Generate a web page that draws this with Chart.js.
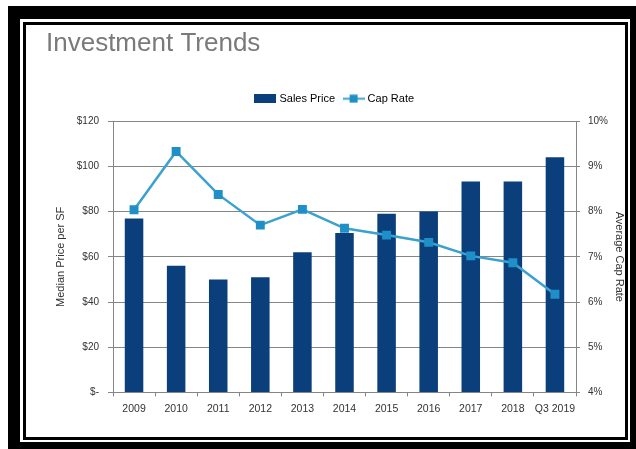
<!DOCTYPE html>
<html>
<head>
<meta charset="utf-8">
<title>Investment Trends</title>
<script src="https://cdn.jsdelivr.net/npm/chart.js@4.4.1/dist/chart.umd.min.js"></script>
<style>
  html, body { margin: 0; padding: 0; background: #fff; width: 636px; height: 449px; overflow: hidden; }
  #frame {
    position: absolute; left: 8px; top: 6px; width: 628px; height: 443px;
    box-sizing: border-box; border: solid #000; border-width: 13px 6px 7px 12px; background: #fff;
  }
  #inner {
    position: absolute; left: 3px; top: 3px; right: 2px; bottom: 2px;
    border: 3px solid #000; background: #fff;
  }
  #chart { display: block; }
</style>
</head>
<body>
<div id="frame"><div id="inner"><canvas id="chart" width="599" height="412"></canvas></div></div>
<script>
const categories = ["2009", "2010", "2011", "2012", "2013", "2014", "2015", "2016", "2017", "2018", "Q3 2019"];
const salesPrice = [77, 56, 50, 51, 62, 70.5, 79, 80, 93.3, 93.3, 104];   // median $ per SF
const capRate = [8.04, 9.33, 8.38, 7.7, 8.05, 7.63, 7.48, 7.32, 7.02, 6.87, 6.17]; // %
const priceTicks = [0, 20, 40, 60, 80, 100, 120];
const rateTicks = [4, 5, 6, 7, 8, 9, 10];

const barColor = "#0b3f7c";
const lineColor = "#3ba2cf";
const markColor = "#1e8fc7";
const gridColor = "#858585";
const tickFont = "'Liberation Sans', Arial, sans-serif";

// little swatches for the legend: a solid box and a line with a square marker
function swatch(draw) {
  const c = document.createElement("canvas");
  c.width = 22; c.height = 9;
  draw(c.getContext("2d"));
  return c;
}
const barSwatch = swatch(g => { g.fillStyle = barColor; g.fillRect(0, 0, 22, 9); });
const lineSwatch = swatch(g => {
  g.strokeStyle = lineColor; g.lineWidth = 2;
  g.beginPath(); g.moveTo(0, 4.5); g.lineTo(22, 4.5); g.stroke();
  g.fillStyle = markColor; g.fillRect(7, 0.5, 8, 8);
});

// extra room between the legend and the plot
const legendGap = {
  id: "legendGap",
  beforeInit(chart) {
    const fit = chart.legend.fit;
    chart.legend.fit = function () {
      fit.call(this);
      this.height += 7;
    };
  }
};

new Chart(document.getElementById("chart"), {
  data: {
    labels: categories,
    datasets: [
      {
        type: "bar", label: "Sales Price", data: salesPrice, yAxisID: "y", order: 2,
        backgroundColor: barColor, borderWidth: 0,
        categoryPercentage: 1, barPercentage: 0.44
      },
      {
        type: "line", label: "Cap Rate", data: capRate, yAxisID: "y1", order: 1,
        borderColor: lineColor, borderWidth: 2.5, tension: 0,
        pointStyle: "rect", pointRadius: 6.3, pointBackgroundColor: markColor,
        pointBorderColor: markColor, pointBorderWidth: 0
      }
    ]
  },
  plugins: [legendGap],
  options: {
    responsive: false,
    animation: false,
    layout: { padding: { left: 20, right: 0, top: 0, bottom: 16 } },
    plugins: {
      title: {
        display: true, text: "Investment Trends", align: "start", color: "#7a7a7a",
        font: { family: "'Liberation Sans', Arial, sans-serif", size: 26, weight: "normal" },
        padding: { top: 3, bottom: 24 }
      },
      legend: {
        position: "top",
        labels: {
          usePointStyle: true, pointStyleWidth: 17, padding: 10,
          color: "#333", font: { family: tickFont, size: 11 },
          generateLabels: () => [
            { text: "Sales Price", pointStyle: barSwatch, datasetIndex: 0, hidden: false, lineWidth: 0 },
            { text: "Cap Rate", pointStyle: lineSwatch, datasetIndex: 1, hidden: false, lineWidth: 0 }
          ]
        }
      },
      tooltip: { enabled: false }
    },
    scales: {
      x: {
        grid: { drawOnChartArea: false, drawTicks: true, tickLength: 4, color: gridColor, offset: true },
        border: { color: gridColor },
        ticks: { padding: 6, color: "#333", font: { family: tickFont, size: 10.5 }, maxRotation: 0, autoSkip: false }
      },
      y: {
        position: "left", min: 0, max: 120,
        afterBuildTicks: s => { s.ticks = priceTicks.map(v => ({ value: v })); },
        afterFit: s => { s.width = 67; },
        grid: { color: gridColor, tickLength: 5 },
        border: { color: gridColor },
        ticks: {
          padding: 9, color: "#333", font: { family: tickFont, size: 10 },
          callback: v => v === 0 ? "$-" : "$" + v
        },
        title: {
          display: true, text: "Median Price per SF", color: "#333",
          font: { family: tickFont, size: 11, lineHeight: 1 }, padding: { top: 9, bottom: 0 }
        }
      },
      y1: {
        position: "right", min: 4, max: 10,
        afterBuildTicks: s => { s.ticks = rateTicks.map(v => ({ value: v })); },
        afterFit: s => { s.width = 49; },
        grid: { drawOnChartArea: false, color: gridColor, tickLength: 4 },
        border: { color: gridColor },
        ticks: {
          padding: 8, color: "#333", font: { family: tickFont, size: 10 },
          callback: v => v + "%"
        },
        title: {
          display: true, text: "Average Cap Rate", color: "#333",
          font: { family: tickFont, size: 11, lineHeight: 1 }, padding: { top: 0, bottom: 0 }
        }
      }
    }
  }
});
</script>
</body>
</html>
